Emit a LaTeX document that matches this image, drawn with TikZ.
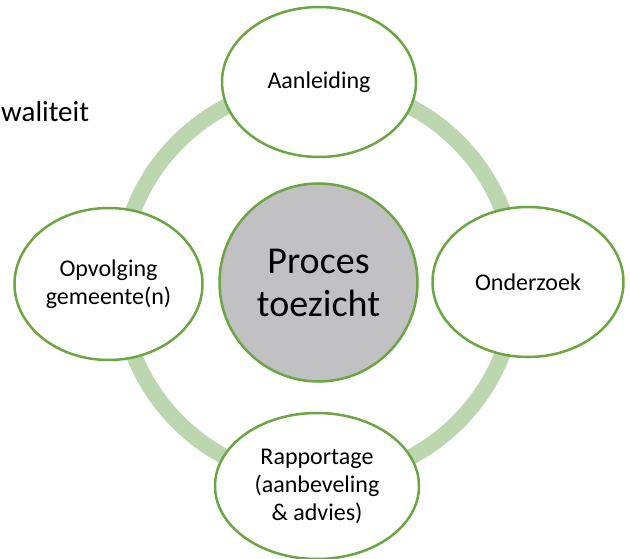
\documentclass[tikz,border=0pt]{standalone}
\usepackage{fontspec}
\setmainfont{Carlito}
\usetikzlibrary{shapes.geometric}
\definecolor{ringgreen}{RGB}{188,214,176}
\definecolor{edgegreen}{RGB}{108,166,68}
\definecolor{hubgray}{RGB}{193,192,194}
\tikzset{
  stage/.style={ellipse, draw=edgegreen, line width=2.5pt, fill=white, inner sep=0pt,
    align=center, font=\fontsize{24}{28}\selectfont},
  hub/.style={circle, draw=edgegreen, line width=2.5pt, fill=hubgray, inner sep=0pt,
    align=center, font=\fontsize{38}{43}\selectfont},
}
\begin{document}
\begin{tikzpicture}[x=1pt,y=-1pt]
\useasboundingbox (0,0) rectangle (630,559);
\fill[white] (0,0) rectangle (630,559);
% ring
\coordinate (rc) at (318,282);
\draw[ringgreen, line width=16pt] (rc) circle (198);
% centre
\node[hub, minimum size=198pt] (hub) at (318.5,282.5) {Proces\\toezicht};
% stages
\node[stage, minimum width=194pt, minimum height=150pt] (top) at (319,82) {Aanleiding};
\node[stage, minimum width=191pt, minimum height=150pt] (right) at (528,282) {Onderzoek};
\node[stage, minimum width=204pt, minimum height=146pt] (bottom) at (317,486) {Rapportage\\(aanbeveling\\\& advies)};
\node[stage, minimum width=188pt, minimum height=152pt] (left) at (108.5,284) {Opvolging\\gemeente(n)};
% cut-off text
\node[anchor=base west, inner sep=0pt, font=\fontsize{29}{33}\selectfont] (kw) at (1,122) {waliteit};
\end{tikzpicture}
\end{document}
